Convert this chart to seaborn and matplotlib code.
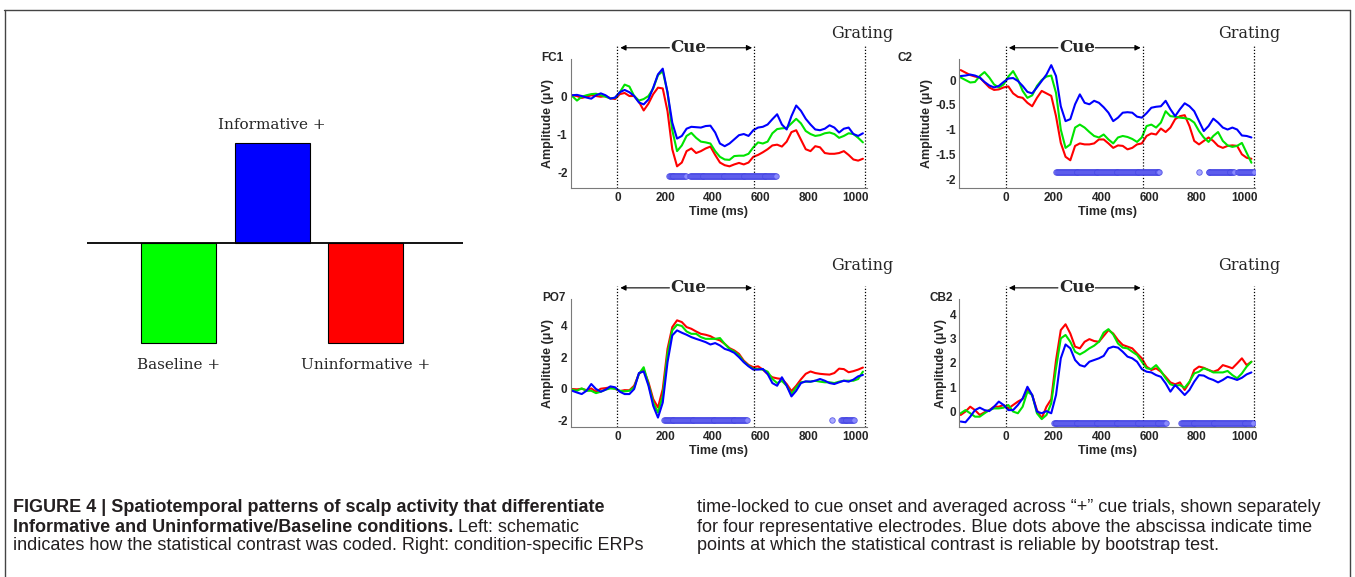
import numpy as np
import pandas as pd
import matplotlib
matplotlib.use("Agg")
import matplotlib.pyplot as plt
import matplotlib.transforms as mtransforms
from matplotlib.lines import Line2D
import seaborn as sns

# ---------------- data ----------------
time_ms = list(range(-190, 1031, 20))

fc1_informative = [0.02, 0.03, 0.00, -0.04, -0.07, 0.02, 0.07, 0.02, -0.07, -0.04,
                   0.10, 0.16, 0.10, 0.00, -0.17, -0.22, -0.09, 0.22, 0.57, 0.72,
                   0.09, -0.70, -1.12, -1.05, -0.86, -0.81, -0.82, -0.83, -0.79, -0.78,
                   -0.96, -1.25, -1.32, -1.25, -1.14, -1.03, -1.00, -1.05, -0.90, -0.83,
                   -0.81, -0.75, -0.61, -0.48, -0.75, -0.88, -0.53, -0.25, -0.39, -0.60,
                   -0.75, -0.88, -0.90, -0.86, -0.77, -0.83, -0.96, -0.86, -0.83, -1.00,
                   -1.05, -0.98]
fc1_baseline = [0.00, -0.12, -0.02, 0.02, 0.05, 0.06, 0.02, -0.02, -0.06, -0.05,
                0.10, 0.30, 0.25, 0.00, -0.12, -0.08, 0.00, 0.20, 0.55, 0.65,
                0.10, -0.90, -1.45, -1.30, -1.05, -0.97, -1.10, -1.20, -1.22, -1.25,
                -1.45, -1.60, -1.67, -1.68, -1.58, -1.57, -1.57, -1.52, -1.35, -1.22,
                -1.25, -1.20, -0.98, -0.87, -0.85, -0.84, -0.72, -0.60, -0.72, -0.92,
                -1.00, -1.05, -1.03, -0.98, -0.96, -1.00, -1.10, -1.05, -0.98, -1.00,
                -1.10, -1.22]
fc1_uninformative = [0.02, 0.00, -0.05, -0.02, 0.02, 0.00, -0.02, 0.00, -0.06, -0.08,
                     0.05, 0.08, 0.00, 0.00, -0.15, -0.38, -0.20, 0.05, 0.22, 0.20,
                     -0.40, -1.40, -1.85, -1.75, -1.45, -1.38, -1.50, -1.45, -1.38, -1.33,
                     -1.55, -1.75, -1.82, -1.85, -1.80, -1.76, -1.80, -1.75, -1.60, -1.55,
                     -1.48, -1.40, -1.30, -1.28, -1.33, -1.20, -0.95, -0.90, -1.15, -1.40,
                     -1.45, -1.32, -1.35, -1.50, -1.52, -1.52, -1.50, -1.45, -1.55, -1.67,
                     -1.70, -1.65]

c2_informative = [0.08, 0.09, 0.11, 0.09, 0.05, -0.04, -0.11, -0.15, -0.12, -0.04,
                  0.03, 0.04, -0.02, -0.12, -0.24, -0.27, -0.15, -0.02, 0.11, 0.30,
                  0.08, -0.53, -0.83, -0.79, -0.49, -0.29, -0.46, -0.49, -0.42, -0.46,
                  -0.55, -0.66, -0.83, -0.76, -0.66, -0.65, -0.66, -0.74, -0.76, -0.67,
                  -0.56, -0.54, -0.53, -0.42, -0.59, -0.73, -0.59, -0.47, -0.53, -0.63,
                  -0.83, -1.03, -0.93, -0.78, -0.86, -0.96, -1.00, -0.96, -1.00, -1.12,
                  -1.13, -1.16]
c2_baseline = [0.05, 0.00, -0.05, -0.04, 0.08, 0.16, 0.05, -0.09, -0.15, -0.09,
               0.07, 0.18, 0.01, -0.22, -0.36, -0.31, -0.12, 0.00, 0.07, 0.09,
               -0.26, -1.00, -1.37, -1.30, -0.96, -0.90, -0.96, -1.05, -1.13, -1.16,
               -1.10, -1.20, -1.28, -1.16, -1.13, -1.15, -1.19, -1.25, -1.16, -0.93,
               -0.90, -0.96, -0.86, -0.63, -0.73, -0.74, -0.76, -0.77, -0.79, -0.86,
               -1.03, -1.16, -1.25, -1.13, -1.05, -1.23, -1.32, -1.35, -1.33, -1.27,
               -1.47, -1.67]
c2_uninformative = [0.20, 0.15, 0.10, 0.07, 0.05, -0.05, -0.15, -0.20, -0.19, -0.15,
                    -0.13, -0.27, -0.34, -0.36, -0.46, -0.53, -0.36, -0.22, -0.27, -0.32,
                    -0.73, -1.27, -1.55, -1.62, -1.33, -1.28, -1.30, -1.30, -1.28, -1.20,
                    -1.20, -1.28, -1.37, -1.32, -1.33, -1.40, -1.37, -1.30, -1.28, -1.13,
                    -1.08, -1.10, -0.98, -1.05, -0.96, -0.79, -0.73, -0.71, -0.93, -1.23,
                    -1.30, -1.23, -1.16, -1.23, -1.33, -1.37, -1.33, -1.32, -1.33, -1.50,
                    -1.57, -1.59]

po7_informative = [-0.13, -0.24, -0.34, -0.13, 0.30, -0.02, -0.19, -0.06, 0.15, 0.09,
                   -0.19, -0.34, -0.34, -0.02, 1.00, 1.10, 0.20, -1.09, -1.84, -0.88,
                   1.69, 3.40, 3.72, 3.57, 3.44, 3.29, 3.18, 3.08, 2.97, 2.82,
                   2.91, 2.76, 2.54, 2.44, 2.29, 2.01, 1.69, 1.43, 1.22, 1.22,
                   1.26, 0.94, 0.36, 0.19, 0.73, 0.19, -0.49, -0.13, 0.36, 0.47,
                   0.45, 0.51, 0.62, 0.51, 0.36, 0.30, 0.41, 0.51, 0.45, 0.58,
                   0.79, 0.88]
po7_baseline = [-0.06, -0.13, 0.02, -0.13, -0.13, -0.28, -0.19, -0.06, 0.02, 0.00,
                -0.13, -0.17, -0.13, 0.09, 0.94, 1.37, 0.30, -0.88, -1.52, -0.45,
                2.22, 3.72, 4.08, 4.00, 3.65, 3.50, 3.50, 3.29, 3.18, 3.18,
                3.18, 3.23, 2.86, 2.54, 2.37, 2.12, 1.73, 1.47, 1.26, 1.26,
                1.22, 1.09, 0.62, 0.36, 0.50, 0.19, -0.34, 0.09, 0.41, 0.45,
                0.45, 0.51, 0.45, 0.41, 0.41, 0.36, 0.45, 0.51, 0.51, 0.51,
                0.62, 1.09]
po7_uninformative = [-0.02, -0.04, 0.00, -0.09, 0.02, -0.19, 0.00, 0.04, 0.09, 0.00,
                     -0.15, -0.09, -0.10, 0.19, 0.94, 1.22, 0.41, -0.66, -1.20, -0.02,
                     2.54, 3.93, 4.36, 4.25, 3.93, 3.82, 3.65, 3.50, 3.44, 3.35,
                     3.18, 3.08, 2.86, 2.59, 2.44, 2.22, 1.79, 1.52, 1.37, 1.43,
                     1.22, 0.94, 0.73, 0.66, 0.62, 0.30, -0.15, 0.19, 0.60, 0.95,
                     1.10, 1.00, 0.95, 0.92, 0.90, 1.00, 1.28, 1.25, 1.05, 1.12,
                     1.22, 1.35]

cb2_informative = [-0.42, -0.45, -0.22, 0.05, 0.15, 0.05, 0.01, 0.19, 0.40, 0.26,
                   0.05, 0.05, 0.26, 0.53, 1.01, 0.67, -0.01, -0.08, 0.01, -0.08,
                   0.67, 2.18, 2.75, 2.59, 2.11, 1.90, 1.84, 2.04, 2.11, 2.18,
                   2.28, 2.59, 2.66, 2.62, 2.45, 2.25, 2.18, 2.04, 1.74, 1.63,
                   1.60, 1.49, 1.42, 1.15, 0.81, 1.08, 0.88, 0.67, 0.88, 1.22,
                   1.49, 1.47, 1.36, 1.29, 1.19, 1.29, 1.42, 1.36, 1.29, 1.38,
                   1.52, 1.60]
cb2_baseline = [-0.08, 0.05, -0.08, -0.22, -0.22, -0.08, 0.05, 0.12, 0.12, 0.15,
                0.26, -0.01, -0.08, 0.19, 0.81, 0.67, -0.08, -0.32, -0.15, 0.33,
                1.77, 3.00, 3.14, 2.86, 2.45, 2.34, 2.45, 2.59, 2.70, 2.86,
                3.24, 3.38, 3.16, 2.79, 2.62, 2.59, 2.45, 2.32, 2.04, 1.77,
                1.74, 1.90, 1.66, 1.36, 1.11, 1.05, 1.08, 0.97, 1.22, 1.56,
                1.63, 1.77, 1.70, 1.60, 1.60, 1.60, 1.66, 1.49, 1.36, 1.56,
                1.84, 2.04]
cb2_uninformative = [-0.15, -0.01, 0.19, 0.05, -0.15, -0.04, 0.05, 0.19, 0.19, 0.26,
                     0.12, 0.26, 0.40, 0.51, 0.88, 0.67, 0.05, -0.29, 0.19, 0.50,
                     2.10, 3.34, 3.58, 3.20, 2.66, 2.59, 2.86, 2.97, 2.89, 2.86,
                     3.10, 3.34, 3.20, 2.93, 2.73, 2.66, 2.59, 2.38, 2.18, 1.84,
                     1.70, 1.77, 1.63, 1.42, 1.19, 1.11, 1.19, 0.88, 1.19, 1.70,
                     1.84, 1.79, 1.70, 1.63, 1.70, 1.90, 1.84, 1.77, 1.97, 2.18,
                     1.90, 2.04]

# significant windows (ms) marked by blue dots
sig_fc1 = [(215, 290), (305, 665)]
sig_c2 = [(212, 645), (808, 808), (850, 958), (975, 1040)]
sig_po7 = [(195, 545), (902, 902), (937, 993)]
sig_cb2 = [(200, 675), (735, 940), (945, 1040)]
sig_level = {"FC1": -2.1, "C2": -1.85, "PO7": -2.0, "CB2": -0.5}

electrodes = ["FC1", "C2", "PO7", "CB2"]
conditions = ["Uninformative", "Baseline", "Informative"]
palette = {"Informative": "#0000ff", "Baseline": "#00e400", "Uninformative": "#ff0000"}

y_ticks = {"FC1": [-2, -1, 0], "C2": [-2, -1.5, -1, -0.5, 0],
           "PO7": [-2, 0, 2, 4], "CB2": [0, 1, 2, 3, 4]}
y_ticklabels = {"FC1": ["-2", "-1", "0"], "C2": ["-2", "-1.5", "-1", "-0.5", "0"],
                "PO7": ["-2", "0", "2", "4"], "CB2": ["0", "1", "2", "3", "4"]}
x_ticks = [0, 200, 400, 600, 800, 1000]

cue_onset, cue_offset, grating_onset = 0, 575, 1040

schema_labels = ["Baseline +", "Informative +", "Uninformative +"]
schema_values = [-1, 1, -1]
schema_colors = ["#00ff00", "#0000ff", "#ff0000"]

caption_left = [
    [("FIGURE 4 | Spatiotemporal patterns of scalp activity that differentiate", "bold")],
    [("Informative and Uninformative/Baseline conditions.", "bold"), (" Left: schematic", "normal")],
    [("indicates how the statistical contrast was coded. Right: condition-specific ERPs", "normal")],
]
caption_right = [
    "time-locked to cue onset and averaged across \u201c+\u201d cue trials, shown separately",
    "for four representative electrodes. Blue dots above the abscissa indicate time",
    "points at which the statistical contrast is reliable by bootstrap test.",
]

# ---------------- figure ----------------
sns.set_style("white")
plt.rcParams["font.family"] = ["Liberation Sans", "DejaVu Sans"]
plt.rcParams["axes.unicode_minus"] = False

W, H = 1355, 577
fig = plt.figure(figsize=(W / 100, H / 100), dpi=100)


def fx(px):
    return px / W


def fy(py):
    return 1 - py / H


# outer frame
frame_kw = dict(color="#444444", lw=1.0, transform=fig.transFigure)
fig.add_artist(Line2D([fx(4), fx(1350)], [fy(10), fy(10)], **frame_kw))
fig.add_artist(Line2D([fx(5), fx(5)], [fy(10), 0], **frame_kw))
fig.add_artist(Line2D([fx(1350), fx(1350)], [fy(10), 0], **frame_kw))

# schematic
ax0 = fig.add_axes([fx(87), fy(390), fx(463) - fx(87), fy(100) - fy(390)])
sns.barplot(x=schema_labels, y=schema_values, hue=schema_labels, palette=schema_colors,
            saturation=1, legend=False, edgecolor="black", linewidth=0.8, width=0.8, ax=ax0)
ax0.set_xlim(-0.98, 3.04)
ax0.set_ylim(-1.47, 1.43)
ax0.axhline(0, color="black", lw=1.3)
ax0.axis("off")
for i, (lab, v) in enumerate(zip(schema_labels, schema_values)):
    ax0.text(i, v + (0.18 if v > 0 else -0.22), lab, ha="center", va="center",
             family="DejaVu Serif", fontsize=11)

# electrode panels
panel_geom = {
    "FC1": (571, 866.5, 59, 188, (-2.42, 0.974)),
    "C2": (959.5, 1255, 59, 188, (-2.18, 0.424)),
    "PO7": (571, 866.5, 299, 427, (-2.44, 5.72)),
    "CB2": (959.5, 1255, 299, 427, (-0.645, 4.62)),
}
series = {
    "FC1": (fc1_uninformative, fc1_baseline, fc1_informative, sig_fc1),
    "C2": (c2_uninformative, c2_baseline, c2_informative, sig_c2),
    "PO7": (po7_uninformative, po7_baseline, po7_informative, sig_po7),
    "CB2": (cb2_uninformative, cb2_baseline, cb2_informative, sig_cb2),
}
label_x = {"FC1": 541, "C2": 898, "PO7": 542, "CB2": 930}

for el in electrodes:
    l, r, t, b, ylim = panel_geom[el]
    ax = fig.add_axes([fx(l), fy(b), fx(r) - fx(l), fy(t) - fy(b)])
    red, green, blue, sig = series[el]
    df = pd.DataFrame({
        "time": time_ms * 3,
        "amp": red + green + blue,
        "cond": ["Uninformative"] * len(time_ms) + ["Baseline"] * len(time_ms)
                + ["Informative"] * len(time_ms),
    })
    sns.lineplot(data=df, x="time", y="amp", hue="cond", hue_order=conditions,
                 palette=palette, lw=1.5, legend=False, errorbar=None, ax=ax)
    for ln in ax.get_lines():
        ln.set_solid_joinstyle("round")
        ln.set_solid_capstyle("round")
    # significance dots
    pts = np.concatenate([np.arange(a, bb + 1, 4) for a, bb in sig])
    ax.scatter(pts, np.full(len(pts), sig_level[el]), s=16, marker="o",
               facecolor="#8c8cff", edgecolor="#3a3ae0", linewidth=0.6, alpha=0.75,
               zorder=5)
    ax.set_xlim(-195, 1045)
    ax.set_ylim(*ylim)
    ax.set_xticks(x_ticks)
    ax.set_xticklabels([str(v) for v in x_ticks])
    ax.set_yticks(y_ticks[el])
    ax.set_yticklabels(y_ticklabels[el])
    for side in ("top", "right"):
        ax.spines[side].set_visible(False)
    for side in ("left", "bottom"):
        ax.spines[side].set_color("#7a7a7a")
        ax.spines[side].set_linewidth(0.8)
    ax.tick_params(direction="in", length=3, width=0.8, color="#7a7a7a",
                   labelsize=8.5, pad=3)
    ax.tick_params(axis="y", pad=2.5)
    for tl in ax.get_xticklabels() + ax.get_yticklabels():
        tl.set_fontweight("bold")
    ax.set_xlabel("Time (ms)", fontsize=9, fontweight="bold", labelpad=1)
    ax.set_ylabel("Amplitude (\u03bcV)", fontsize=9, fontweight="bold", labelpad=2)
    # dotted event markers
    for xv in (cue_onset, cue_offset, grating_onset):
        ax.axvline(xv, ymin=0, ymax=1.105, clip_on=False, color="black",
                   lw=0.9, ls=(0, (1, 1.5)))
    # cue arrow
    ya = 1.087
    ax.text(297, ya, "Cue", transform=mtransforms.blended_transform_factory(ax.transData, ax.transAxes),
            ha="center", va="center", family="DejaVu Serif", fontweight="bold", fontsize=12)
    arrow_kw = dict(arrowstyle="-|>", color="black", lw=0.8, shrinkA=0, shrinkB=0,
                    mutation_scale=8)
    ax.annotate("", xy=(12, ya), xytext=(218, ya), xycoords=("data", "axes fraction"),
                textcoords=("data", "axes fraction"), arrowprops=arrow_kw, annotation_clip=False)
    ax.annotate("", xy=(565, ya), xytext=(375, ya), xycoords=("data", "axes fraction"),
                textcoords=("data", "axes fraction"), arrowprops=arrow_kw, annotation_clip=False)
    # panel label + Grating
    fig.text(fx(label_x[el]), fy(t - 1), el, ha="left", va="center",
             fontsize=8.5, fontweight="bold")
    gx = 862 if l < 900 else 1249
    gy = 33 if t < 100 else 265
    fig.text(fx(gx), fy(gy), "Grating", ha="center", va="center",
             family="DejaVu Serif", fontsize=11.5)

# caption
cap_family = ["Liberation Sans", "DejaVu Sans"]
cap_size = 13
renderer = fig.canvas.get_renderer()
for i, line in enumerate(caption_left):
    x = fx(13)
    y = fy([507, 527, 546][i])
    for txt, wt in line:
        t_obj = fig.text(x, y, txt, ha="left", va="center", family=cap_family,
                         fontsize=cap_size, fontweight=wt, color="#231f20")
        bb = t_obj.get_window_extent(renderer=renderer)
        x = bb.x1 / fig.dpi / fig.get_figwidth()
for i, txt in enumerate(caption_right):
    fig.text(fx(697), fy([507, 527, 546][i]), txt, ha="left", va="center",
             family=cap_family, fontsize=cap_size, color="#231f20")

fig.savefig("out.png", dpi=100)
